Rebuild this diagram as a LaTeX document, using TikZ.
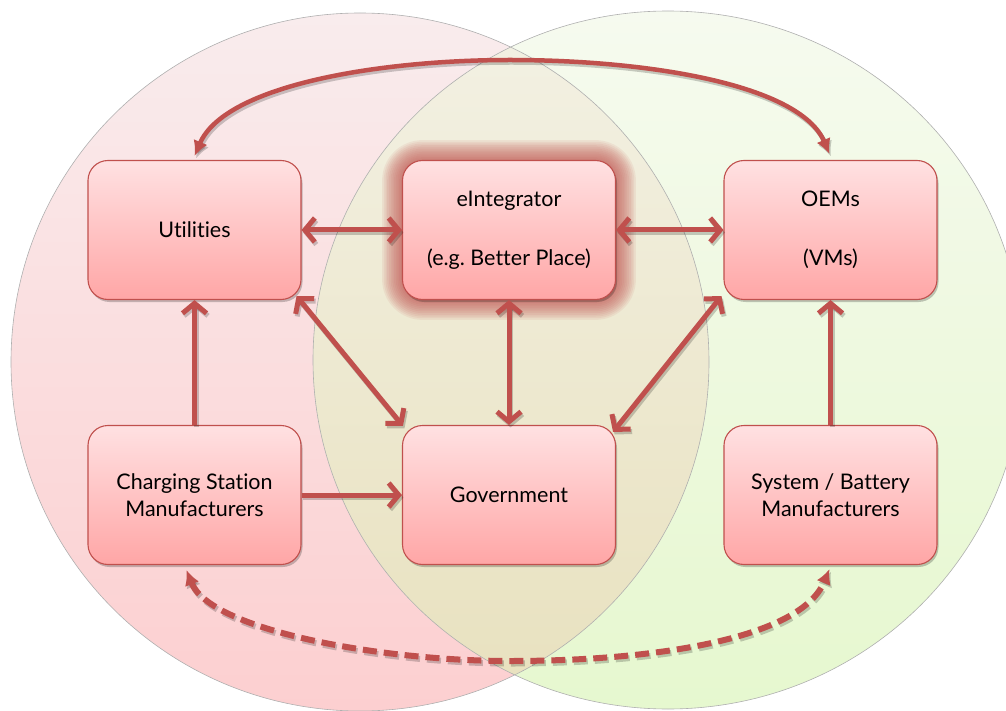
\documentclass[tikz,border=0pt]{standalone}
\usepackage{fontspec}
\setmainfont{Lato}[Ligatures={NoCommon}]
\usetikzlibrary{arrows.meta,shadows}
\definecolor{arr}{HTML}{C0504D}
\definecolor{boxtop}{HTML}{FFE1E2}
\definecolor{boxbot}{HTML}{FFA6A6}
\definecolor{pinkT}{HTML}{F9ECED}
\definecolor{pinkB}{HTML}{FCCFD0}
\definecolor{greenT}{HTML}{F6FAEF}
\definecolor{greenB}{HTML}{E6F8CF}
\definecolor{ovT}{HTML}{F3F1E4}
\definecolor{ovB}{HTML}{E8E1BE}
\definecolor{vennline}{HTML}{AFAFAF}
\newcommand\Conn[2]{\draw[#1,shadowcopy] #2; \draw[#1] #2;}
\begin{document}
\begin{tikzpicture}[x=1pt,y=-1pt,
  box/.style={draw=arr, line width=1.1pt, rounded corners=20pt,
    top color=boxtop, bottom color=boxbot,
    minimum width=213pt, minimum height=139pt, inner sep=0pt,
    align=center, font=\fontsize{21.5}{27}\selectfont,
    drop shadow={shadow xshift=1.5pt, shadow yshift=-2.5pt, opacity=.22, fill=black}},
  conn/.style={draw=arr, line width=5pt},
  dbl/.style={conn, {Straight Barb[length=10pt,width=24pt]}-{Straight Barb[length=10pt,width=24pt]}},
  single/.style={conn, -{Straight Barb[length=10pt,width=24pt]}},
  curved/.style={conn, line width=4.5pt, {Latex[length=15pt,width=15pt]}-{Latex[length=15pt,width=15pt]}},
  dashcurve/.style={conn, line width=6pt, dash pattern=on 14pt off 7pt, {Latex[length=15pt,width=15pt]}-{Latex[length=15pt,width=15pt]}},
  shadowcopy/.style={draw=black, opacity=.2, transform canvas={xshift=1.5pt,yshift=-2.5pt}},
  venn/.style={draw=vennline, line width=0.6pt}
]
\useasboundingbox (0,0) rectangle (1006,711);
\clip (0,0) rectangle (1006,711);
% Venn circles
\shade[top color=pinkT, bottom color=pinkB] (360,362) circle[radius=349];
\shade[top color=greenT, bottom color=greenB] (668,360) ellipse[x radius=355, y radius=349];
\begin{scope}
  \clip (360,362) circle[radius=349];
  \shade[top color=ovT, bottom color=ovB] (668,360) ellipse[x radius=355, y radius=349];
\end{scope}
\draw[venn] (360,362) circle[radius=349];
\draw[venn] (668,360) ellipse[x radius=355, y radius=349];
% glow around eIntegrator
\foreach \i [evaluate=\i as \d using \i*1.7, evaluate=\i as \r using 20+\i*1.7] in {1,...,12}
  \fill[arr, opacity=0.085, rounded corners=\r pt] (402.5-\d,160.5-\d) rectangle (615.5+\d,299.5+\d);
% boxes
\node[box] (util) at (194.5,230) {Utilities};
\node[box] (eint) at (509,230) {eIntegrator\\[32pt](e.g.\ Better Place)};
\node[box] (oems) at (830.5,230) {OEMs\\[32pt](VMs)};
\node[box] (charg) at (194.5,495) {Charging Station\\Manufacturers};
\node[box] (gov) at (509,495) {Government};
\node[box] (sys) at (830.5,495) {System / Battery\\Manufacturers};
% connectors
\Conn{dbl}{(util.east) -- (eint.west)}
\Conn{dbl}{(eint.east) -- (oems.west)}
\Conn{dbl}{(eint.south) -- (gov.north)}
\Conn{dbl}{([shift={(-5pt,4pt)}]util.south east) -- ([shift={(1pt,-1pt)}]gov.north west)}
\Conn{dbl}{([shift={(-2pt,4pt)}]oems.south west) -- ([shift={(-3pt,-7pt)}]gov.north east)}
\Conn{single}{(charg.north) -- (util.south)}
\Conn{single}{(charg.east) -- (gov.west)}
\Conn{single}{(sys.north) -- (oems.south)}
\Conn{curved}{([yshift=4pt]util.north) .. controls (225,85) and (380,60) .. (510,60) .. controls (650,60) and (800,85) .. ([shift={(-1pt,6pt)}]oems.north)}
\Conn{dashcurve}{([shift={(-8pt,-5pt)}]charg.south) .. controls (210,630) and (380,661) .. (510,661) .. controls (650,661) and (800,640) .. ([shift={(-1pt,-4pt)}]sys.south)}
\end{tikzpicture}
\end{document}
